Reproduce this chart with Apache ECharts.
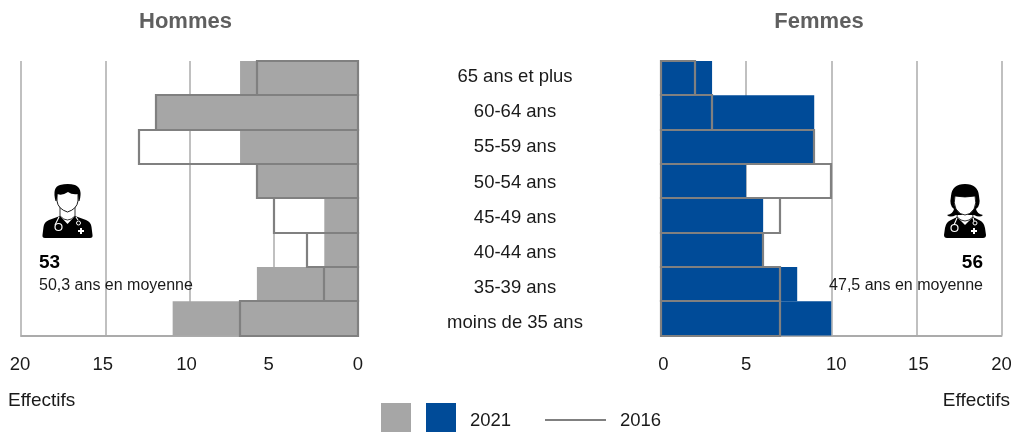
<!DOCTYPE html>
<html>
<head>
<meta charset="utf-8">
<style>
  html, body { margin: 0; padding: 0; background: #fff; }
  #chart { width: 1011px; height: 432px; }
</style>
<script src="https://cdn.jsdelivr.net/npm/echarts@6/dist/echarts.min.js"></script>
</head>
<body>
<div id="chart"></div>
<script>
const ageGroups = ['65 ans et plus', '60-64 ans', '55-59 ans', '50-54 ans', '45-49 ans', '40-44 ans', '35-39 ans', 'moins de 35 ans']
const men2021 = [7, 12, 7, 6, 2, 2, 6, 11]
const men2016 = [6, 12, 13, 6, 5, 3, 2, 7]
const women2021 = [3, 9, 9, 5, 6, 6, 8, 10]
const women2016 = [2, 3, 9, 10, 7, 6, 7, 7]

const FONT = '"Liberation Sans", Arial, sans-serif'
const GREY = '#a6a6a6'
const BLUE = '#004b98'
const OUTLINE = '#808080'
const GRID = '#ababab'
const TEXT = '#1a1a1a'

// tick labels in the source sit a few pixels off their gridlines
function tickRich(shifts) {
  const rich = {}
  Object.keys(shifts).forEach(function(k) {
    const d = shifts[k]
    rich['t' + k] = {
      fontFamily: FONT,
      fontSize: 18.5,
      color: TEXT,
      padding: d < 0 ? [0, -2 * d, 0, 0] : [0, 0, 0, 2 * d]
    }
  })
  return rich
}

function valueAxis(gridIndex, inverse, shifts) {
  return {
    type: 'value',
    gridIndex: gridIndex,
    inverse: inverse,
    min: 0,
    max: 20,
    interval: 5,
    axisLine: { show: true, onZero: false, lineStyle: { color: GRID, width: 2 } },
    axisTick: { show: false },
    splitLine: { show: true, lineStyle: { color: GRID, width: 1.5 } },
    axisLabel: {
      margin: 19.5,
      showMinLabel: true,
      showMaxLabel: true,
      formatter: function(v) { return '{t' + v + '|' + v + '}' },
      rich: tickRich(shifts)
    }
  }
}

function barSeries(name, data, axis, color) {
  return {
    name: name,
    type: 'bar',
    xAxisIndex: axis,
    yAxisIndex: axis,
    data: data,
    barWidth: '100%',
    silent: true,
    itemStyle: { color: color },
    z: 2
  }
}

// 2016 outlines: a bar series insets its border, the source shares one line between neighbours
function renderOutline(params, api) {
  const end = api.coord([api.value(0), api.value(1)])
  const start = api.coord([0, api.value(1)])
  const band = api.size([0, 1])[1]
  const x = Math.round(Math.min(start[0], end[0]))
  const y = Math.round(end[1] - band / 2)
  return {
    type: 'rect',
    shape: {
      x: x,
      y: y,
      width: Math.round(Math.max(start[0], end[0])) - x,
      height: Math.round(end[1] + band / 2) - y
    },
    style: { fill: 'none', stroke: OUTLINE, lineWidth: 2.2 }
  }
}

function outlineSeries(name, data, axis) {
  return {
    name: name,
    type: 'custom',
    xAxisIndex: axis,
    yAxisIndex: axis,
    data: data.map(function(v, i) { return [v, i] }),
    encode: { x: 0, y: 1 },
    renderItem: renderOutline,
    silent: true,
    z: 3
  }
}

function label(x, y, text, opts) {
  return {
    type: 'text',
    x: x,
    y: y,
    z: 20,
    style: Object.assign({
      text: text,
      fontFamily: FONT,
      fontSize: 16,
      fill: TEXT,
      textVerticalAlign: 'middle'
    }, opts || {})
  }
}

// the graphic component has no plain svg path type, so each one gets registered
let shapeCount = 0
function shape(d, fill, stroke, lineWidth) {
  const name = 'iconPart' + (shapeCount++)
  echarts.graphic.registerShape(name, echarts.graphic.extendPath(d, {}))
  return {
    type: name,
    style: { fill: fill || 'none', stroke: stroke || 'none', lineWidth: lineWidth || 1 }
  }
}

function manIcon(x, y) {
  return {
    type: 'group',
    x: x,
    y: y,
    z: 20,
    children: [
      shape('M0.5 51 Q0 54 3 54 H48 Q51 54 50.5 51 L49.5 43 Q49 38 44 36 L33 32 L25.5 40 L18 32 L7 36 Q2 38 1.5 43 Z', '#000'),
      shape('M18 22 L18 32 Q25.5 40 33 32 L33 22', '#fff', '#000', 0.8),
      shape('M15 9 L15 17 Q16 25 25.5 28 Q35 25 36 17 L36 9 Q25 2 15 9 Z', '#fff', '#000', 0.9),
      shape('M13.5 17 Q10 3 18 1 Q26 -1 33 1 Q41 4 37.5 17 L36.5 17 L36 10 Q30 11 26 8 Q20 12 15.5 10 L14.5 17 Z', '#000'),
      shape('M17 33 L13 41 M34 33 L36 36', 'none', '#fff', 1.1),
      shape('M20 43 a3.5 3.5 0 1 0 -7 0 a3.5 3.5 0 1 0 7 0 Z', 'none', '#fff', 1.2),
      shape('M38.5 39 a2 2 0 1 0 -4 0 a2 2 0 1 0 4 0 Z', 'none', '#fff', 1),
      shape('M36 46 h2 v-2 h2 v2 h2 v2 h-2 v2 h-2 v-2 h-2 Z', '#fff')
    ]
  }
}

function womanIcon(x, y) {
  return {
    type: 'group',
    x: x,
    y: y,
    z: 20,
    children: [
      shape('M0 51 Q0 54 3 54 H39 Q42 54 42 51 L41 44 Q40 38 35 36 L29 33 L21 41 L13 33 L7 36 Q2 38 1 44 Z', '#000'),
      shape('M14 24 L13 33 Q21 41 29 33 L28 24', '#fff', '#000', 0.8),
      shape('M3 31 Q9 30 10 25 Q5 22 7 12 Q8 0 21 0 Q34 0 35 12 Q37 22 32 25 Q33 30 39 31 Q36 34 30 31 L12 31 Q6 34 3 31 Z', '#000'),
      shape('M11 12 Q21 14 31 12 Q33 19 30 25 Q26 31 21 31 Q16 31 12 25 Q9 19 11 12 Z', '#fff', '#000', 0.8),
      shape('M13 34 L10 41 M29 34 L30 37', 'none', '#fff', 1.1),
      shape('M14 44 a3.5 3.5 0 1 0 -7 0 a3.5 3.5 0 1 0 7 0 Z', 'none', '#fff', 1.2),
      shape('M33 39 a2 2 0 1 0 -4 0 a2 2 0 1 0 4 0 Z', 'none', '#fff', 1),
      shape('M27 46 h2 v-2 h2 v2 h2 v2 h-2 v2 h-2 v-2 h-2 Z', '#fff')
    ]
  }
}

const chart = echarts.init(document.getElementById('chart'))
chart.setOption({
  backgroundColor: '#fff',
  animation: false,
  title: [
    { text: 'Hommes', left: 180.5, top: 6, textAlign: 'center', textStyle: { fontFamily: FONT, fontSize: 22, fontWeight: 'bold', color: '#5f5f5f' } },
    { text: 'Femmes', left: 814, top: 6, textAlign: 'center', textStyle: { fontFamily: FONT, fontSize: 22, fontWeight: 'bold', color: '#5f5f5f' } }
  ],
  grid: [
    { left: 21, top: 61, width: 337, height: 274.5, outerBoundsMode: 'none' },
    { left: 661, top: 61, width: 340.5, height: 274.5, outerBoundsMode: 'none' },
    // age labels run on a slightly wider pitch than the bars in the source
    { left: 515, top: 59.5, width: 1, height: 281, outerBoundsMode: 'none' }
  ],
  xAxis: [
    valueAxis(0, true, { 0: 0, 5: -5, 10: -3, 15: -2.5, 20: -1 }),
    valueAxis(1, false, { 0: 2.5, 5: 0, 10: 5, 15: 2, 20: 0 }),
    { type: 'value', gridIndex: 2, show: false }
  ],
  yAxis: [
    {
      type: 'category',
      gridIndex: 0,
      position: 'right',
      inverse: true,
      data: ageGroups,
      axisLine: { show: false },
      axisTick: { show: false },
      axisLabel: { show: false }
    },
    {
      type: 'category',
      gridIndex: 1,
      position: 'left',
      inverse: true,
      data: ageGroups,
      axisLine: { show: false },
      axisTick: { show: false },
      axisLabel: { show: false }
    },
    {
      type: 'category',
      gridIndex: 2,
      position: 'left',
      inverse: true,
      data: ageGroups,
      axisLine: { show: false },
      axisTick: { show: false },
      axisLabel: { margin: 0, align: 'center', fontFamily: FONT, fontSize: 18.5, color: TEXT }
    }
  ],
  series: [
    barSeries('Hommes 2021', men2021, 0, GREY),
    outlineSeries('Hommes 2016', men2016, 0),
    barSeries('Femmes 2021', women2021, 1, BLUE),
    outlineSeries('Femmes 2016', women2016, 1)
  ],
  graphic: [
    manIcon(42, 184),
    womanIcon(944, 184),
    label(39, 263, '53', { fontWeight: 'bold', fontSize: 19, fill: '#000' }),
    label(39, 286, '50,3 ans en moyenne'),
    label(983, 263, '56', { fontWeight: 'bold', fontSize: 19, fill: '#000', textAlign: 'right' }),
    label(983, 286, '47,5 ans en moyenne', { textAlign: 'right' }),
    label(8, 401, 'Effectifs', { fontSize: 19 }),
    label(1010, 401, 'Effectifs', { fontSize: 19, textAlign: 'right' }),
    { type: 'rect', z: 20, shape: { x: 381, y: 403, width: 30, height: 29 }, style: { fill: GREY } },
    { type: 'rect', z: 20, shape: { x: 426, y: 403, width: 30, height: 29 }, style: { fill: BLUE } },
    label(470, 421, '2021', { fontSize: 18.5 }),
    { type: 'line', z: 20, shape: { x1: 545, y1: 420, x2: 606, y2: 420 }, style: { stroke: OUTLINE, lineWidth: 2 } },
    label(620, 421, '2016', { fontSize: 18.5 })
  ]
})
</script>
</body>
</html>
